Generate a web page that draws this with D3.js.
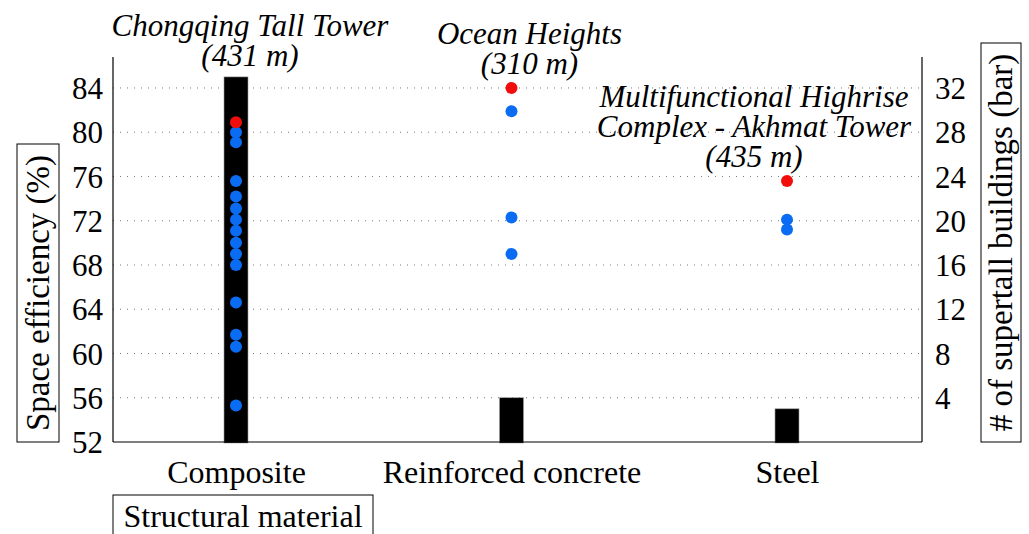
<!DOCTYPE html>
<html>
<head>
<meta charset="utf-8">
<script src="https://cdn.jsdelivr.net/npm/d3@7"></script>
<style>
  body { margin: 0; background: #fff; }
  svg { display: block; }
  text { font-family: "Liberation Serif", "Times New Roman", serif; fill: #000; }
</style>
</head>
<body>
<div id="chart"></div>
<script>
// structural material categories
var materials = ["Composite", "Reinforced concrete", "Steel"];
// number of supertall buildings per material (bars, right axis)
var buildingCounts = [33, 4, 3];

// space efficiency (%) of each building, blue dots
var compositeEff = [80.0, 79.1, 75.6, 74.2, 73.1, 72.1, 71.1, 70.0, 69.0, 68.0, 64.6, 61.7, 60.6, 55.3];
var concreteEff = [81.9, 72.3, 69.0];
var steelEff = [72.1, 71.2];

// highlighted (max) building per material, red dots
var highlightEff = [80.9, 84.0, 75.6];
var highlightNames = [
  ["Chongqing Tall Tower", "(431 m)"],
  ["Ocean Heights", "(310 m)"],
  ["Multifunctional Highrise", "Complex - Akhmat Tower", "(435 m)"]
];

var leftTicks = [52, 56, 60, 64, 68, 72, 76, 80, 84];
var rightTicks = [4, 8, 12, 16, 20, 24, 28, 32];

var width = 1029, height = 534;
var margin = {top: 57, right: 107, bottom: 92, left: 113};
var chartW = width - margin.left - margin.right,
    chartH = height - margin.top - margin.bottom;

var svg = d3.select('#chart').append('svg')
    .attr('width', width)
    .attr('height', height);

var g = svg.append('g')
    .attr('transform', 'translate(' + margin.left + ',' + margin.top + ')');

var x = d3.scalePoint()
    .domain(materials)
    .range([123, 674]);

var y1 = d3.scaleLinear()
    .domain([52, 86.8])
    .range([chartH, 0]);

var y2 = d3.scaleLinear()
    .domain([0, 34.8])
    .range([chartH, 0]);

// dotted grid lines
g.append('g').selectAll('line')
    .data(leftTicks.filter(function(d) { return d > 52; }))
    .enter().append('line')
    .attr('x1', 0)
    .attr('x2', chartW)
    .attr('y1', function(d) { return y1(d); })
    .attr('y2', function(d) { return y1(d); })
    .style('stroke', '#777')
    .style('stroke-width', 1)
    .style('stroke-dasharray', '1,6');

// bars
var barW = 24;
g.append('g').selectAll('rect')
    .data(buildingCounts)
    .enter().append('rect')
    .attr('x', function(d, i) { return x(materials[i]) - barW / 2; })
    .attr('y', function(d) { return y2(d); })
    .attr('width', barW)
    .attr('height', function(d) { return chartH - y2(d) + 1; })
    .style('fill', '#000')
    .style('stroke', '#999')
    .style('stroke-width', 0.6);

// blue dots
var dots = [];
[compositeEff, concreteEff, steelEff].forEach(function(arr, i) {
  arr.forEach(function(v) { dots.push({m: materials[i], v: v}); });
});

g.append('g').selectAll('circle')
    .data(dots)
    .enter().append('circle')
    .attr('cx', function(d) { return x(d.m); })
    .attr('cy', function(d) { return y1(d.v); })
    .attr('r', 6)
    .style('fill', '#0a6cf2');

// red dots
g.append('g').selectAll('circle')
    .data(highlightEff)
    .enter().append('circle')
    .attr('cx', function(d, i) { return x(materials[i]); })
    .attr('cy', function(d) { return y1(d); })
    .attr('r', 6)
    .style('fill', '#f20d0d');

// axes
var axisL = g.append('g').call(d3.axisLeft(y1).tickValues(leftTicks).tickSize(0).tickPadding(10));
var axisR = g.append('g').attr('transform', 'translate(' + chartW + ',0)')
    .call(d3.axisRight(y2).tickValues(rightTicks).tickSize(0).tickPadding(13));
var axisB = g.append('g').attr('transform', 'translate(0,' + chartH + ')')
    .call(d3.axisBottom(x).tickSize(0).tickPadding(18));

[axisL, axisR, axisB].forEach(function(a) {
  a.select('.domain').style('stroke', '#000').style('stroke-width', 1.2);
  a.selectAll('text').style('font-family', '"Liberation Serif", serif').style('font-size', '31px').attr('dy', '0.34em');
});
axisB.selectAll('text').style('font-size', '32px').attr('dy', '0.71em');
axisB.select('.domain').attr('d', 'M0,0H' + chartW);
axisL.select('.domain').attr('d', 'M0,' + chartH + 'V0');
axisR.select('.domain').attr('d', 'M0,' + chartH + 'V0');

// building names
var ann = [
  {dx: 14, y: 36},
  {dx: 18, y: 44},
  {dx: -33, y: 107}
];
highlightNames.forEach(function(lines, i) {
  var t = svg.append('text')
      .attr('text-anchor', 'middle')
      .style('font-style', 'italic')
      .style('font-size', '31px');
  lines.forEach(function(s, j) {
    t.append('tspan')
      .attr('x', margin.left + x(materials[i]) + ann[i].dx)
      .attr('y', ann[i].y + j * 30)
      .text(s);
  });
});

// axis titles in boxes
function boxedTitle(txt, bx, by, bw, bh, rotate, size, ty) {
  svg.append('rect')
      .attr('x', bx).attr('y', by).attr('width', bw).attr('height', bh)
      .style('fill', 'none').style('stroke', '#000').style('stroke-width', 1);
  var cx = bx + bw / 2, cy = ty || (by + bh / 2);
  svg.append('text')
      .attr('transform', 'translate(' + cx + ',' + cy + ')' + (rotate ? ' rotate(-90)' : ''))
      .attr('text-anchor', 'middle')
      .attr('dy', '0.33em')
      .style('font-size', size + 'px')
      .text(txt);
}
boxedTitle('Space efficiency (%)', 17, 144, 42, 298, true, 33);
boxedTitle('# of supertall buildings (bar)', 981, 43, 40, 399, true, 33);
boxedTitle('Structural material', 113, 495, 260, 45, false, 32, 516);
</script>
</body>
</html>
